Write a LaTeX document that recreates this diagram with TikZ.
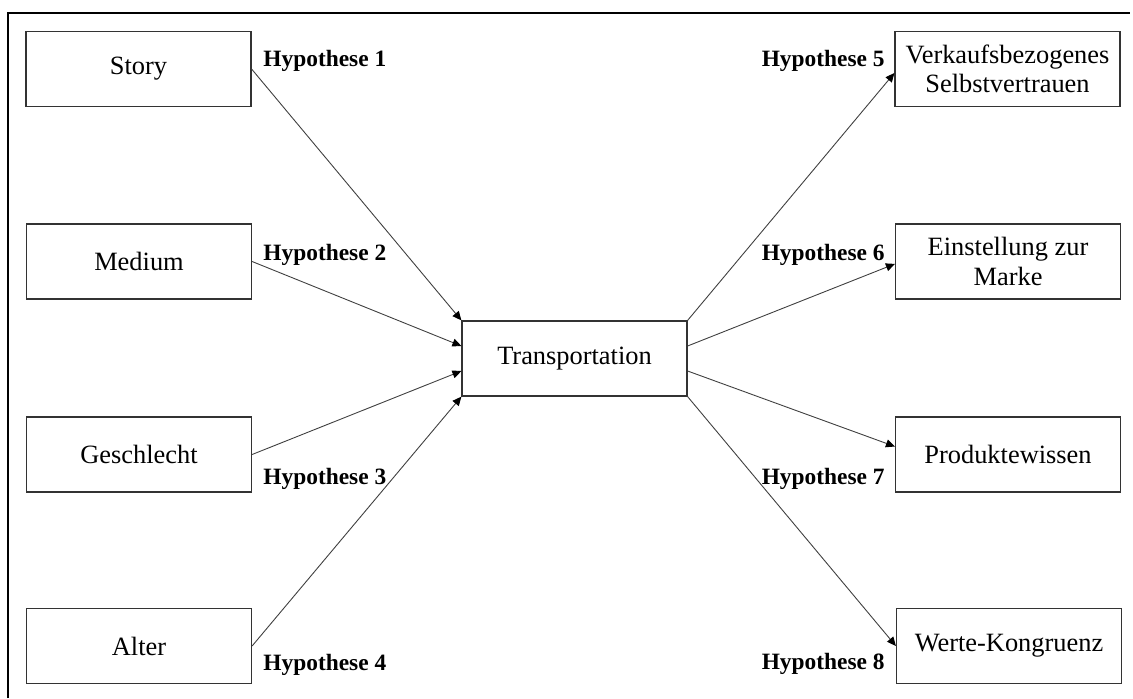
\documentclass[tikz,border=0pt]{standalone}
\usepackage{fontspec}
\setmainfont{Liberation Serif}
\usepackage{tikz}
\usetikzlibrary{arrows.meta}

\begin{document}
\begin{tikzpicture}[x=0.5pt,y=0.5pt,
    box/.style={draw=black!80,line width=0.6pt,minimum width=112.5pt,minimum height=37.5pt,
      align=center,font=\fontsize{13.2}{14.6}\selectfont},
    hyp/.style={inner sep=0pt,font=\fontsize{11.7}{14}\selectfont\bfseries},
    conn/.style={draw=black!75,line width=0.45pt,-{Triangle[length=4.5pt,width=4pt,color=black]}}]
      \useasboundingbox (0,0) rectangle (1133,698);
      \draw[line width=0.8pt] (8,0) |- (1130,685);

      \path
      (138.5,629) node[box](story) {Story}
      (139,436.5) node[box](medium) {Medium}
      (139,243.5) node[box](geschlecht) {Geschlecht}
      (139,52) node[box](alter) {Alter}
      (574.5,339.5) node[box](trans) {Transportation}
      (1007.5,629) node[box](selbst) {Verkaufsbezogenes\\Selbstvertrauen}
      (1008,436.5) node[box](marke) {Einstellung zur\\Marke}
      (1008,243.5) node[box](wissen) {Produktewissen}
      (1009,52) node[box](werte) {Werte-Kongruenz}
      ;

      % Hypothesen
      \path
      (263,632) node[hyp,anchor=base west](h1) {Hypothese 1}
      (263,438) node[hyp,anchor=base west](h2) {Hypothese 2}
      (263,214) node[hyp,anchor=base west](h3) {Hypothese 3}
      (263,28) node[hyp,anchor=base west](h4) {Hypothese 4}
      (885,632) node[hyp,anchor=base east](h5) {Hypothese 5}
      (885,438) node[hyp,anchor=base east](h6) {Hypothese 6}
      (885,214) node[hyp,anchor=base east](h7) {Hypothese 7}
      (885,29) node[hyp,anchor=base east](h8) {Hypothese 8}
      ;

      \draw[conn] (story.east) -- (trans.north west);
      \draw[conn] (medium.east) -- ([yshift=6.25pt]trans.west);
      \draw[conn] (geschlecht.east) -- ([yshift=-6.25pt]trans.west);
      \draw[conn] (alter.east) -- (trans.south west);
      \draw[conn] (trans.north east) -- ([yshift=-2pt]selbst.west);
      \draw[conn] ([yshift=6.25pt]trans.east) -- ([yshift=-1.2pt]marke.west);
      \draw[conn] ([yshift=-6.25pt]trans.east) -- ([yshift=4pt]wissen.west);
      \draw[conn] (trans.south east) -- (werte.west);
    \end{tikzpicture}
\end{document}
